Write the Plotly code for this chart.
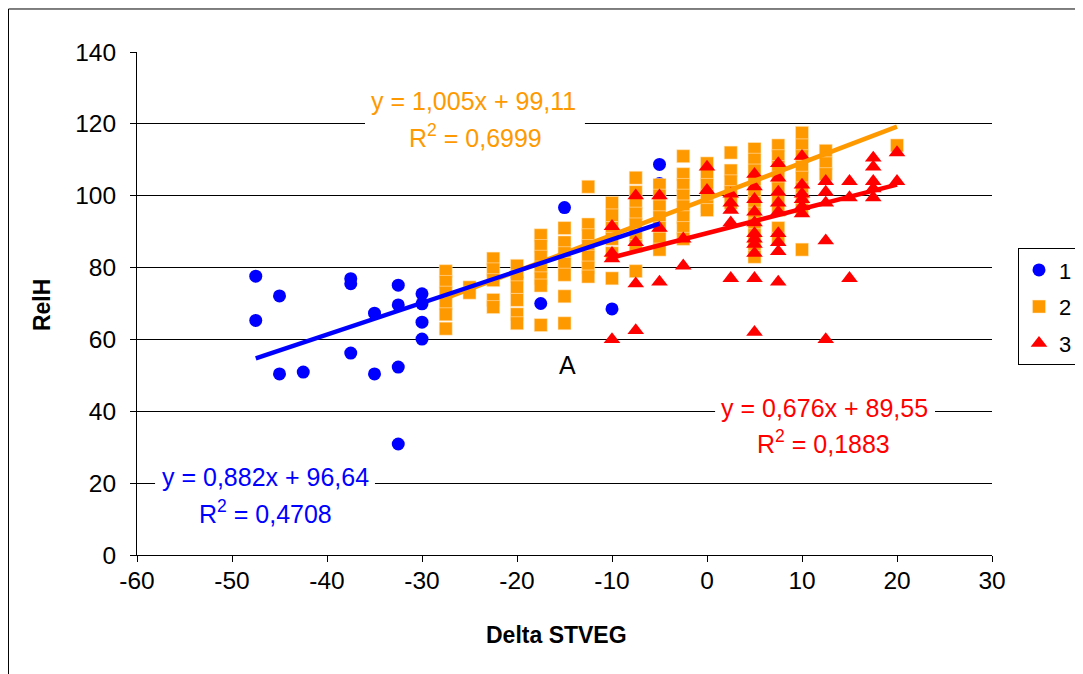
import plotly.graph_objects as go
import numpy as np

FONT = "Liberation Sans, Arial, sans-serif"

# ---------------- data ----------------
x_ticks = [-60, -50, -40, -30, -20, -10, 0, 10, 20, 30]
y_ticks = [0, 20, 40, 60, 80, 100, 120, 140]

blue_x = [-47.5, -47.5, -45, -45, -42.5, -37.5, -37.5, -37.5, -35, -35,
          -32.5, -32.5, -32.5, -32.5, -30, -30, -30, -30, -20, -17.5, -15, -10, -5, -5]
blue_y = [77.6, 65.3, 72.1, 50.4, 50.9, 76.9, 75.5, 56.2, 67.3, 50.4,
          75.1, 69.6, 52.3, 30.9, 72.7, 69.9, 64.8, 60.1, 77.3, 70.0, 96.7, 68.5, 108.7, 103.4]

orange_x = ([-27.5] * 6 + [-25] * 2 + [-22.5] * 5 + [-20] * 6 + [-17.5] * 7 + [-15] * 7 +
            [-12.5] * 7 + [-10] * 6 + [-7.5] * 8 + [-5] * 7 + [-2.5] * 8 + [0] * 6 +
            [2.5] * 5 + [5] * 11 + [7.5] * 9 + [10] * 9 + [12.5] * 3 + [20] * 1)
orange_y = [79, 76, 73, 70, 67, 63,
            74.5, 73,
            82.5, 79.5, 76.5, 71, 69,
            80.5, 77.5, 74.5, 71, 67, 64.5,
            89, 86, 83, 80, 77, 75, 64,
            91, 87, 84, 81, 78, 72, 64.5,
            102.5, 92, 89, 86, 83, 80, 77.5,
            98, 94.5, 91, 88, 84, 77,
            105, 101, 98, 95, 92, 89, 86, 79,
            103, 100, 97, 94, 91, 88, 85,
            111, 106, 103, 100, 97, 94, 91, 88,
            109, 106, 103, 100, 97, 96,
            112, 107, 104, 101, 98,
            113, 110, 107, 104, 101, 98, 95, 92, 89, 86, 83,
            114, 111, 108, 105, 102, 99, 96, 91, 88,
            117.5, 114, 111, 108, 105, 102, 99, 96, 85,
            112.5, 109, 106,
            114]

red_x = ([-10] * 4 + [-7.5] * 4 + [-5] * 3 + [-2.5] * 2 + [0] * 2 + [2.5] * 5 + [5] * 11 +
         [7.5] * 9 + [10] * 6 + [12.5] * 5 + [15] * 3 + [17.5] * 5 + [20] * 2)
red_y = [91.5, 84, 82.5, 60,
         100, 87, 75.5, 62.5,
         100, 91, 76,
         88, 80.5,
         108, 101.5,
         100.5, 98, 96, 92.5, 77,
         106, 102.5, 99, 95.5, 92.5, 89.5, 88, 86.5, 84, 77, 62,
         109, 105, 101, 98, 95.5, 89.5, 87, 84.5, 76,
         111, 103, 100.5, 99, 97, 95,
         104, 101, 98, 87.5, 60,
         104, 99.5, 77,
         110.5, 108, 104, 102, 99.5,
         112, 104]

# trendline equations shown in the chart
blue_fit = (0.882, 96.64)
orange_fit = (1.005, 99.11)
red_fit = (0.676, 89.55)

BLUE, ORANGE, RED = "#0000FF", "#FF9900", "#FF0000"

fig = go.Figure()

fig.add_trace(go.Scatter(x=blue_x, y=blue_y, mode="markers", name="1", legendgroup="1",
                         marker=dict(symbol="circle", size=13, color=BLUE)))
fig.add_trace(go.Scatter(x=orange_x, y=orange_y, mode="markers", name="2", legendgroup="2",
                         marker=dict(symbol="square", size=13, color=ORANGE,
                                     line=dict(color="rgba(255,235,200,0.9)", width=0.6))))
fig.add_trace(go.Scatter(x=red_x, y=red_y, mode="markers", name="3", legendgroup="3",
                         marker=dict(symbol="triangle-up", size=14.5, color=RED)))


def trend(xs, fit, color):
    xr = np.array([min(xs), max(xs)], dtype=float)
    fig.add_trace(go.Scatter(x=xr, y=fit[0] * xr + fit[1], mode="lines", showlegend=False,
                             hoverinfo="skip", line=dict(color=color, width=4.5)))


trend(orange_x, orange_fit, ORANGE)
trend(red_x, red_fit, RED)
trend(blue_x, blue_fit, BLUE)

# white gaps in gridlines behind equation labels
for (x0, x1, yg) in [(-58.1, -34.95, 20), (-36.0, -12.85, 120), (0.85, 24.0, 40)]:
    fig.add_shape(type="rect", xref="x", yref="y", x0=x0, x1=x1, y0=yg - 2, y1=yg + 2,
                  fillcolor="white", line=dict(width=0), layer="between")

def label(x, y, text, color):
    fig.add_annotation(x=x, y=y, xref="x", yref="y", text=text, showarrow=False,
                       xanchor="center", yanchor="middle",
                       font=dict(family=FONT, size=25, color=color))

label(-46.5, 21.7, "y = 0,882x + 96,64", BLUE)
label(-46.5, 11.9, "R<sup>2</sup> = 0,4708", BLUE)
label(-24.6, 126.4, "y = 1,005x + 99,11", ORANGE)
label(-24.4, 116.5, "R<sup>2</sup> = 0,6999", ORANGE)
label(12.4, 40.9, "y = 0,676x + 89,55", RED)
label(12.3, 31.4, "R<sup>2</sup> = 0,1883", RED)
label(-14.7, 52.9, "A", "black")

# axis titles
fig.add_annotation(x=-0.111, y=0.497, xref="paper", yref="paper", text="<b>RelH</b>",
                   textangle=-90, showarrow=False, xanchor="center", yanchor="middle",
                   font=dict(family=FONT, size=23, color="black"))
fig.add_annotation(x=0.491, y=-0.159, xref="paper", yref="paper", text="<b>Delta STVEG</b>",
                   showarrow=False, xanchor="center", yanchor="middle",
                   font=dict(family=FONT, size=23, color="black"))

# outer chart border
fig.add_shape(type="rect", xref="paper", yref="paper", x0=-0.1503, x1=1.3, y0=-0.5, y1=1.0855,
              line=dict(color="black", width=1), fillcolor="rgba(0,0,0,0)", layer="below")

fig.update_layout(
    width=1075, height=666,
    margin=dict(l=129, r=91, t=44, b=119, autoexpand=False),
    paper_bgcolor="white", plot_bgcolor="white",
    font=dict(family=FONT, size=24, color="black"),
    showlegend=True,
    legend=dict(x=1.0304, y=0.610, xanchor="left", yanchor="top",
                bordercolor="black", borderwidth=1, bgcolor="white",
                font=dict(family=FONT, size=22, color="black"),
                tracegroupgap=5, itemwidth=30),
    xaxis=dict(range=[-60, 30], tickvals=x_ticks, ticktext=[str(v) for v in x_ticks],
               showgrid=False, zeroline=False, showline=True, linecolor="black", linewidth=1,
               ticks="outside", ticklen=6, tickcolor="black", ticklabelstandoff=-2,
               tickfont=dict(family=FONT, size=24.5, color="black")),
    yaxis=dict(range=[0, 140], tickvals=y_ticks, ticktext=[str(v) for v in y_ticks],
               showgrid=True, gridcolor="black", gridwidth=1, zeroline=False,
               showline=True, linecolor="black", linewidth=1,
               ticks="outside", ticklen=6, tickcolor="black", ticklabelstandoff=9,
               tickfont=dict(family=FONT, size=24.5, color="black")),
)

fig.write_html("out.html")
